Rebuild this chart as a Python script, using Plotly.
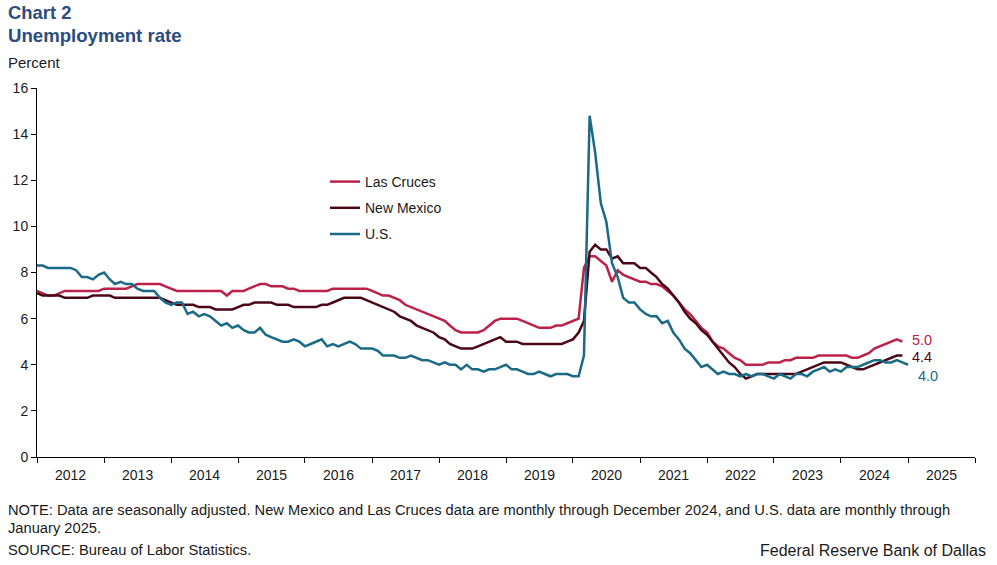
import plotly.graph_objects as go

# ---------------- data ----------------
years = list(range(2012, 2026))
tick_labels = [str(y) for y in years]

las_cruces = [
    7.2, 7.1, 7.0, 7.0, 7.1, 7.2, 7.2, 7.2, 7.2, 7.2, 7.2, 7.2,   # 2012
    7.3, 7.3, 7.3, 7.3, 7.3, 7.4, 7.5, 7.5, 7.5, 7.5, 7.5, 7.4,   # 2013
    7.3, 7.2, 7.2, 7.2, 7.2, 7.2, 7.2, 7.2, 7.2, 7.2, 7.0, 7.2,   # 2014
    7.2, 7.2, 7.3, 7.4, 7.5, 7.5, 7.4, 7.4, 7.4, 7.3, 7.3, 7.2,   # 2015
    7.2, 7.2, 7.2, 7.2, 7.2, 7.3, 7.3, 7.3, 7.3, 7.3, 7.3, 7.3,   # 2016
    7.2, 7.1, 7.0, 7.0, 6.9, 6.8, 6.6, 6.5, 6.4, 6.3, 6.2, 6.1,   # 2017
    6.0, 5.9, 5.7, 5.5, 5.4, 5.4, 5.4, 5.4, 5.5, 5.7, 5.9, 6.0,   # 2018
    6.0, 6.0, 6.0, 5.9, 5.8, 5.7, 5.6, 5.6, 5.6, 5.7, 5.7, 5.8,   # 2019
    5.9, 6.0, 8.2, 8.7, 8.7, 8.5, 8.3, 7.6, 8.1, 7.9, 7.8, 7.7,   # 2020
    7.6, 7.6, 7.5, 7.5, 7.4, 7.2, 7.0, 6.7, 6.4, 6.2, 5.9, 5.6,   # 2021
    5.4, 5.0, 4.8, 4.7, 4.5, 4.3, 4.2, 4.0, 4.0, 4.0, 4.0, 4.1,   # 2022
    4.1, 4.1, 4.2, 4.2, 4.3, 4.3, 4.3, 4.3, 4.4, 4.4, 4.4, 4.4,   # 2023
    4.4, 4.4, 4.3, 4.3, 4.4, 4.5, 4.7, 4.8, 4.9, 5.0, 5.1, 5.0,   # 2024
]

new_mexico = [
    7.1, 7.0, 7.0, 7.0, 7.0, 6.9, 6.9, 6.9, 6.9, 6.9, 7.0, 7.0,   # 2012
    7.0, 7.0, 6.9, 6.9, 6.9, 6.9, 6.9, 6.9, 6.9, 6.9, 6.9, 6.8,   # 2013
    6.7, 6.6, 6.6, 6.6, 6.6, 6.5, 6.5, 6.5, 6.4, 6.4, 6.4, 6.4,   # 2014
    6.5, 6.6, 6.6, 6.7, 6.7, 6.7, 6.7, 6.6, 6.6, 6.6, 6.5, 6.5,   # 2015
    6.5, 6.5, 6.5, 6.6, 6.6, 6.7, 6.8, 6.9, 6.9, 6.9, 6.9, 6.8,   # 2016
    6.7, 6.6, 6.5, 6.4, 6.3, 6.1, 6.0, 5.9, 5.7, 5.6, 5.5, 5.4,   # 2017
    5.2, 5.1, 4.9, 4.8, 4.7, 4.7, 4.7, 4.8, 4.9, 5.0, 5.1, 5.2,   # 2018
    5.0, 5.0, 5.0, 4.9, 4.9, 4.9, 4.9, 4.9, 4.9, 4.9, 4.9, 5.0,   # 2019
    5.1, 5.4, 5.9, 8.9, 9.2, 9.0, 9.0, 8.6, 8.7, 8.4, 8.4, 8.4,   # 2020
    8.2, 8.2, 8.0, 7.8, 7.5, 7.3, 7.0, 6.7, 6.3, 6.0, 5.8, 5.5,   # 2021
    5.3, 5.0, 4.7, 4.4, 4.1, 3.9, 3.6, 3.4, 3.5, 3.6, 3.6, 3.6,   # 2022
    3.6, 3.6, 3.6, 3.6, 3.6, 3.7, 3.8, 3.9, 4.0, 4.1, 4.1, 4.1,   # 2023
    4.1, 4.0, 3.9, 3.8, 3.8, 3.9, 4.0, 4.1, 4.2, 4.3, 4.4, 4.4,   # 2024
]

us = [
    8.3, 8.3, 8.2, 8.2, 8.2, 8.2, 8.2, 8.1, 7.8, 7.8, 7.7, 7.9,   # 2012
    8.0, 7.7, 7.5, 7.6, 7.5, 7.5, 7.3, 7.2, 7.2, 7.2, 6.9, 6.7,   # 2013
    6.6, 6.7, 6.7, 6.2, 6.3, 6.1, 6.2, 6.1, 5.9, 5.7, 5.8, 5.6,   # 2014
    5.7, 5.5, 5.4, 5.4, 5.6, 5.3, 5.2, 5.1, 5.0, 5.0, 5.1, 5.0,   # 2015
    4.8, 4.9, 5.0, 5.1, 4.8, 4.9, 4.8, 4.9, 5.0, 4.9, 4.7, 4.7,   # 2016
    4.7, 4.6, 4.4, 4.4, 4.4, 4.3, 4.3, 4.4, 4.3, 4.2, 4.2, 4.1,   # 2017
    4.0, 4.1, 4.0, 4.0, 3.8, 4.0, 3.8, 3.8, 3.7, 3.8, 3.8, 3.9,   # 2018
    4.0, 3.8, 3.8, 3.7, 3.6, 3.6, 3.7, 3.6, 3.5, 3.6, 3.6, 3.6,   # 2019
    3.5, 3.5, 4.4, 14.8, 13.2, 11.0, 10.2, 8.4, 7.8, 6.9, 6.7, 6.7,  # 2020
    6.4, 6.2, 6.1, 6.1, 5.8, 5.9, 5.4, 5.1, 4.7, 4.5, 4.2, 3.9,   # 2021
    4.0, 3.8, 3.6, 3.7, 3.6, 3.6, 3.5, 3.6, 3.5, 3.6, 3.6, 3.5,   # 2022
    3.4, 3.6, 3.5, 3.4, 3.6, 3.6, 3.5, 3.7, 3.8, 3.9, 3.7, 3.8,   # 2023
    3.7, 3.9, 3.9, 3.9, 4.0, 4.1, 4.2, 4.2, 4.1, 4.1, 4.2, 4.1,   # 2024
    4.0,                                                          # 2025
]

months = [f"{y}-{m:02d}-01" for y in range(2012, 2026) for m in range(1, 13)]
dates_local = months[:len(las_cruces)]
dates_us = months[:len(us)]

# ---------------- style ----------------
C_LC = "#BC2249"
C_NM = "#4A0817"
C_US = "#1A6A86"
TITLE_C = "#2B4C7E"
TXT = "#1a1a1a"
FONT = "Liberation Sans, Arial, sans-serif"

fig = go.Figure()
fig.add_trace(go.Scatter(x=dates_local, y=las_cruces, mode="lines", name="Las Cruces",
                         line=dict(color=C_LC, width=2.5), legendgroup="a"))
fig.add_trace(go.Scatter(x=dates_local, y=new_mexico, mode="lines", name="New Mexico",
                         line=dict(color=C_NM, width=2.5), legendgroup="b"))
fig.add_trace(go.Scatter(x=dates_us, y=us, mode="lines", name="U.S.",
                         line=dict(color=C_US, width=2.5), legendgroup="c"))

# plot area in pixels
L, R, T, B = 37, 22, 88, 108
W, H = 997, 565
pw, ph = W - L - R, H - T - B


def px(x):
    return (x - L) / pw


def py(y):
    return (H - B - y) / ph


NOTE_SIZE = 14.7
ann = []
ann.append(dict(text="<b>Chart 2</b>", x=px(6), y=py(12), xanchor="left", yanchor="middle",
                font=dict(size=18.4, color=TITLE_C, family=FONT)))
ann.append(dict(text="<b>Unemployment rate</b>", x=px(6), y=py(36), xanchor="left", yanchor="middle",
                font=dict(size=18.6, color=TITLE_C, family=FONT)))
ann.append(dict(text="Percent", x=px(6), y=py(63), xanchor="left", yanchor="middle",
                font=dict(size=15, color=TXT, family=FONT)))
ann.append(dict(text="NOTE: Data are seasonally adjusted. New Mexico and Las Cruces data are monthly through December 2024, and U.S. data are monthly through",
                x=px(6), y=py(510), xanchor="left", yanchor="middle",
                font=dict(size=NOTE_SIZE, color=TXT, family=FONT)))
ann.append(dict(text="January 2025.", x=px(6), y=py(528), xanchor="left", yanchor="middle",
                font=dict(size=NOTE_SIZE, color=TXT, family=FONT)))
ann.append(dict(text="SOURCE: Bureau of Labor Statistics.", x=px(6), y=py(550), xanchor="left", yanchor="middle",
                font=dict(size=NOTE_SIZE, color=TXT, family=FONT)))
ann.append(dict(text="Federal Reserve Bank of Dallas", x=px(988), y=py(550), xanchor="right", yanchor="middle",
                font=dict(size=16, color=TXT, family=FONT)))

# end-of-line value labels
for dts, vals, col, ys in [(dates_local, las_cruces, C_LC, 2), (dates_local, new_mexico, C_NM, -1),
                           (dates_us, us, C_US, -11)]:
    ann.append(dict(text=f"{vals[-1]:.1f}", x=dts[-1], y=vals[-1], xref="x", yref="y",
                    xanchor="left", yanchor="middle", xshift=8, yshift=ys, showarrow=False,
                    font=dict(size=14.5, color=col, family=FONT)))

for a in ann:
    a.setdefault("xref", "paper")
    a.setdefault("yref", "paper")
    a["showarrow"] = False

fig.update_layout(
    width=W, height=H,
    margin=dict(l=L, r=R, t=T, b=B),
    paper_bgcolor="white", plot_bgcolor="white",
    font=dict(family=FONT, size=14, color=TXT),
    showlegend=True,
    legend=dict(x=px(325), y=py(166), xanchor="left", yanchor="top",
                bgcolor="rgba(0,0,0,0)", font=dict(size=14, color=TXT, family=FONT),
                tracegroupgap=5, itemwidth=30),
    annotations=ann,
    xaxis=dict(
        type="date", range=["2012-01-01", "2026-01-01"],
        tick0="2012-01-01", dtick="M12", ticklabelmode="period", tickformat="%Y",
        showgrid=False, zeroline=False,
        showline=True, linecolor="black", linewidth=1,
        ticks="outside", ticklen=5, tickcolor="black",
        tickfont=dict(size=14, color=TXT, family=FONT),
    ),
    yaxis=dict(
        range=[0, 16], dtick=2, tick0=0,
        showgrid=False, zeroline=False,
        showline=True, linecolor="black", linewidth=1,
        ticks="outside", ticklen=5, tickcolor="black",
        tickfont=dict(size=14, color=TXT, family=FONT),
    ),
)

fig.write_html("out.html", config={"displayModeBar": False},
               post_script="document.body.style.margin='0';document.body.style.overflow='hidden';")
